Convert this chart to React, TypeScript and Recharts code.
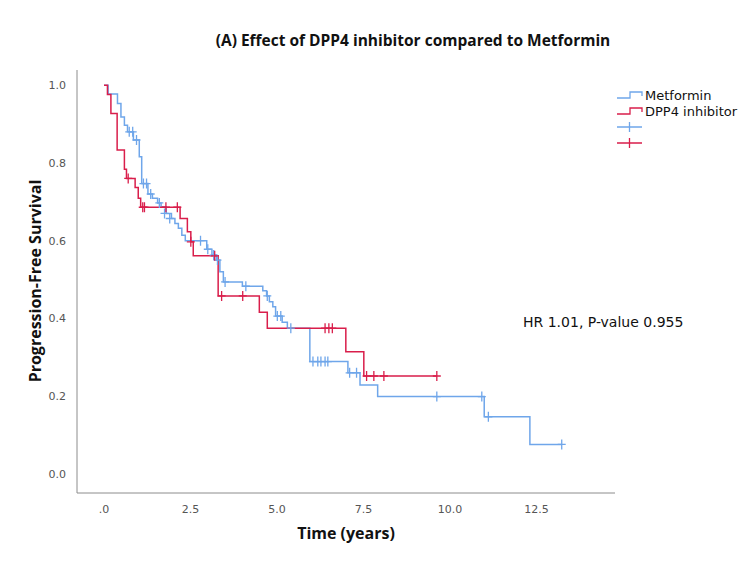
import {
  ComposedChart,
  Line,
  Scatter,
  XAxis,
  YAxis,
} from "recharts";

// Kaplan-Meier steps (time in years, survival after that time)
const metforminTime = [0, 0.12, 0.39, 0.49, 0.59, 0.68, 0.85, 1.02, 1.09, 1.27, 1.4, 1.55, 1.65, 1.8, 1.95, 2.05, 2.15, 2.25, 2.35, 2.97, 3.12, 3.25, 3.35, 3.45, 4.0, 4.59, 4.7, 4.78, 4.88, 4.96, 5.15, 5.3, 5.95, 7.05, 7.4, 7.91, 10.99, 12.31, 13.23];
const metforminSurv = [1.0, 0.977, 0.953, 0.918, 0.897, 0.88, 0.859, 0.816, 0.747, 0.72, 0.709, 0.697, 0.687, 0.67, 0.657, 0.644, 0.632, 0.614, 0.6, 0.578, 0.563, 0.55, 0.52, 0.494, 0.483, 0.471, 0.458, 0.443, 0.43, 0.406, 0.39, 0.375, 0.289, 0.26, 0.229, 0.199, 0.147, 0.076, 0.076];
const metforminCensorTime = [0.73, 0.83, 0.94, 1.14, 1.23, 1.35, 1.6, 1.75, 1.9, 2.79, 3.0, 3.17, 3.28, 3.5, 4.1, 4.72, 5.01, 5.11, 5.4, 6.04, 6.18, 6.27, 6.39, 6.47, 7.1, 7.3, 9.62, 10.92, 11.11, 13.23];
const metforminCensorSurv = [0.88, 0.88, 0.859, 0.747, 0.747, 0.72, 0.697, 0.67, 0.657, 0.6, 0.578, 0.563, 0.55, 0.494, 0.483, 0.458, 0.406, 0.406, 0.375, 0.289, 0.289, 0.289, 0.289, 0.289, 0.26, 0.26, 0.199, 0.199, 0.147, 0.076];

const dppTime = [0, 0.1, 0.2, 0.38, 0.59, 0.65, 0.9, 0.99, 1.06, 2.2, 2.41, 2.51, 2.58, 3.3, 4.49, 4.72, 6.99, 7.51, 9.62];
const dppSurv = [1.0, 0.976, 0.927, 0.833, 0.784, 0.76, 0.737, 0.709, 0.686, 0.657, 0.623, 0.597, 0.561, 0.458, 0.416, 0.375, 0.314, 0.252, 0.252];
const dppCensorTime = [0.7, 1.12, 1.17, 1.79, 2.12, 2.51, 3.2, 3.4, 4.01, 6.39, 6.5, 6.6, 7.59, 7.8, 8.09, 9.62];
const dppCensorSurv = [0.76, 0.686, 0.686, 0.686, 0.686, 0.597, 0.561, 0.458, 0.458, 0.375, 0.375, 0.375, 0.252, 0.252, 0.252, 0.252];

const xTicks = [0, 2.5, 5, 7.5, 10, 12.5];
const yTicks = [0, 0.2, 0.4, 0.6, 0.8, 1.0];

const BLUE = "#6fa6ea";
const RED = "#d91e4b";
const FONT = "'DejaVu Sans', sans-serif";

const toPoints = (t: number[], s: number[]) => t.map((v, i) => ({ t: v, s: s[i] }));

const metformin = toPoints(metforminTime, metforminSurv);
const metforminCensor = toPoints(metforminCensorTime, metforminCensorSurv);
const dpp = toPoints(dppTime, dppSurv);
const dppCensor = toPoints(dppCensorTime, dppCensorSurv);

const cross = (color: string) => (props: any) => {
  const { cx, cy } = props;
  return (
    <path
      d={`M${cx - 4},${cy}h8M${cx},${cy - 5}v10`}
      stroke={color}
      strokeWidth={1.3}
      fill="none"
    />
  );
};

function LegendBox() {
  const rows = [
    { color: BLUE, label: "Metformin", kind: "step" },
    { color: RED, label: "DPP4 inhibitor", kind: "step" },
    { color: BLUE, label: "", kind: "cross" },
    { color: RED, label: "", kind: "cross" },
  ];
  return (
    <div
      style={{
        position: "absolute",
        left: 616,
        top: 87,
        fontFamily: FONT,
        fontSize: 13,
        color: "#111",
      }}
    >
      {rows.map((r, i) => (
        <div key={i} style={{ display: "flex", alignItems: "center", height: 16 }}>
          <svg width={28} height={16}>
            {r.kind === "step" ? (
              <path d="M1,11H14V5H26V9" stroke={r.color} strokeWidth={1.3} fill="none" />
            ) : (
              <path d="M1,8H26M13.5,3V13" stroke={r.color} strokeWidth={1.3} fill="none" />
            )}
          </svg>
          <span style={{ marginLeft: 1 }}>{r.label}</span>
        </div>
      ))}
    </div>
  );
}

export default function App() {
  return (
    <div style={{ position: "absolute", left: 0, top: 0, width: 750, height: 562, background: "#fff" }}>
      <div
        style={{
          position: "absolute",
          left: 163,
          top: 29,
          width: 500,
          textAlign: "center",
          fontFamily: "'Open Sans', sans-serif",
          fontWeight: 700,
          fontSize: 15.5,
          color: "#111",
        }}
      >
        (A) Effect of DPP4 inhibitor compared to Metformin
      </div>
      <ComposedChart
        width={750}
        height={562}
        margin={{ top: 70, right: 135, bottom: 9, left: 17 }}
      >
        <XAxis
          type="number"
          dataKey="t"
          domain={[-0.78, 14.77]}
          ticks={xTicks}
          allowDataOverflow
          tickFormatter={(v: number) => (v === 0 ? ".0" : v.toFixed(1))}
          tickLine={false}
          tickMargin={6}
          height={60}
          stroke="#8c8c8c"
          tick={{ fontSize: 11, fill: "#555", fontFamily: FONT }}
        />
        <YAxis
          type="number"
          domain={[-0.049, 1.039]}
          ticks={yTicks}
          allowDataOverflow
          tickFormatter={(v: number) => v.toFixed(1)}
          tickLine={false}
          tickMargin={5}
          width={60}
          stroke="#8c8c8c"
          tick={{ fontSize: 11, fill: "#555", fontFamily: FONT }}
        />
        <Line
          data={metformin}
          dataKey="s"
          type="stepAfter"
          stroke={BLUE}
          strokeWidth={1.5}
          dot={false}
          isAnimationActive={false}
        />
        <Line
          data={dpp}
          dataKey="s"
          type="stepAfter"
          stroke={RED}
          strokeWidth={1.5}
          dot={false}
          isAnimationActive={false}
        />
        <Scatter data={metforminCensor} dataKey="s" shape={cross(BLUE)} isAnimationActive={false} />
        <Scatter data={dppCensor} dataKey="s" shape={cross(RED)} isAnimationActive={false} />
      </ComposedChart>
      <LegendBox />
      <div
        style={{
          position: "absolute",
          left: 523,
          top: 314,
          fontFamily: FONT,
          fontSize: 14,
          color: "#111",
          whiteSpace: "nowrap",
        }}
      >
        HR 1.01, P-value 0.955
      </div>
      <div
        style={{
          position: "absolute",
          left: 246,
          top: 522,
          width: 200,
          textAlign: "center",
          fontFamily: "'Open Sans', sans-serif",
          fontWeight: 700,
          fontSize: 16,
          color: "#111",
        }}
      >
        Time (years)
      </div>
      <div
        style={{
          position: "absolute",
          left: 35 - 150,
          top: 281 - 11,
          width: 300,
          textAlign: "center",
          transform: "rotate(-90deg)",
          fontFamily: "'Open Sans', sans-serif",
          fontWeight: 700,
          fontSize: 16,
          color: "#111",
        }}
      >
        Progression-Free Survival
      </div>
    </div>
  );
}
